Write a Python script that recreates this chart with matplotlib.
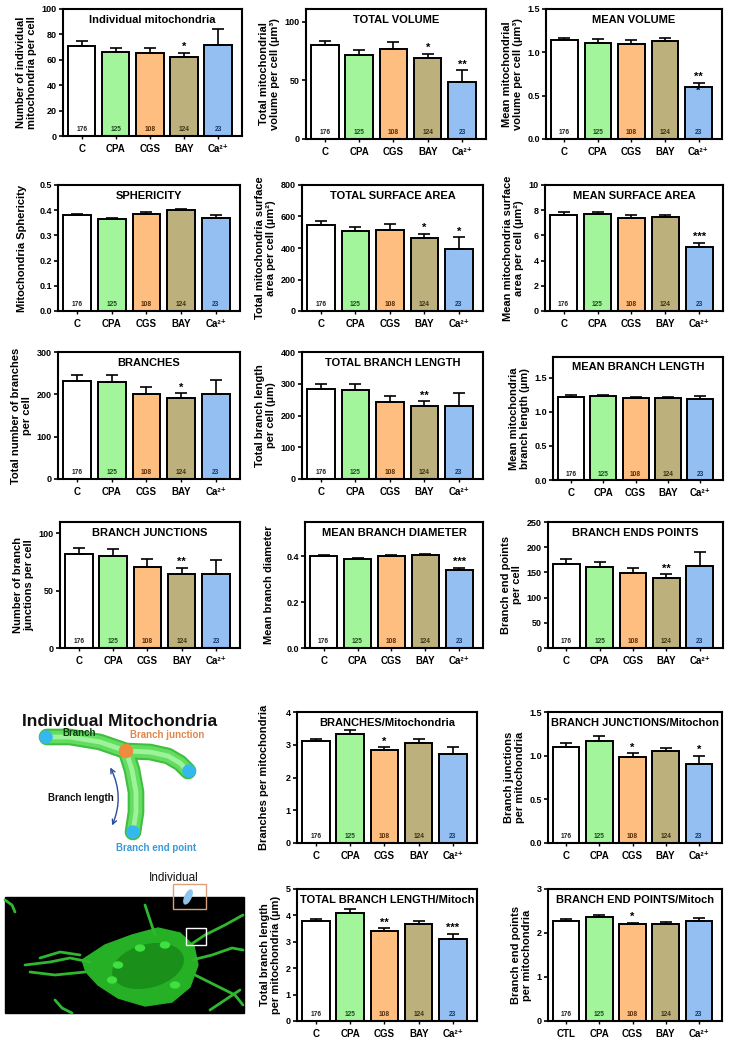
import matplotlib
matplotlib.use("Agg")
import matplotlib.pyplot as plt
from matplotlib.patches import Rectangle, FancyArrowPatch, Polygon, Ellipse
import numpy as np

plt.rcParams['font.family'] = ['Liberation Sans', 'DejaVu Sans']
plt.rcParams['font.weight'] = 'bold'

W, H = 733, 1044

groups = ['C', 'CPA', 'CGS', 'BAY', 'Ca²⁺']
groups_ctl = ['CTL', 'CPA', 'CGS', 'BAY', 'Ca²⁺']
n_cells = ['176', '125', '108', '124', '23']
bar_colors = ['#ffffff', '#a3f59c', '#fdbe80', '#bcb07c', '#93bff3']
n_colors = ['#222222', '#1d4d1d', '#5a2e08', '#3b3416', '#173a6a']

# ---- data (means, SEM, significance) ----
indiv_mean = [71, 66, 65, 62, 72]
indiv_err = [3.5, 3.5, 4.5, 3.5, 12.5]
indiv_sig = ['', '', '', '*', '']

totvol_mean = [80, 72, 77, 69, 48.5]
totvol_err = [3.5, 4, 6, 4, 10]
totvol_sig = ['', '', '', '*', '**']

meanvol_mean = [1.14, 1.11, 1.10, 1.13, 0.60]
meanvol_err = [0.02, 0.04, 0.04, 0.03, 0.05]
meanvol_sig = ['', '', '', '', '**|*']

spher_mean = [0.380, 0.366, 0.386, 0.399, 0.368]
spher_err = [0.005, 0.005, 0.005, 0.004, 0.012]
spher_sig = ['', '', '', '', '']

totsa_mean = [545, 505, 515, 462, 392]
totsa_err = [28, 30, 40, 28, 75]
totsa_sig = ['', '', '', '*', '*']

meansa_mean = [7.65, 7.68, 7.42, 7.47, 5.10]
meansa_err = [0.17, 0.20, 0.22, 0.18, 0.30]
meansa_sig = ['', '', '', '', '***']

branch_mean = [232, 229, 201, 191, 200]
branch_err = [13, 16, 17, 12, 34]
branch_sig = ['', '', '', '*', '']

totbl_mean = [282, 280, 242, 230, 230]
totbl_err = [16, 19, 20, 15, 40]
totbl_sig = ['', '', '', '**', '']

meanbl_mean = [1.22, 1.23, 1.20, 1.20, 1.18]
meanbl_err = [0.02, 0.02, 0.02, 0.02, 0.05]
meanbl_sig = ['', '', '', '', '']

junc_mean = [82, 80, 71, 65, 65]
junc_err = [5, 6, 7, 5, 12]
junc_sig = ['', '', '', '**', '']

diam_mean = [0.402, 0.388, 0.402, 0.408, 0.342]
diam_err = [0.004, 0.004, 0.004, 0.004, 0.008]
diam_sig = ['', '', '', '', '***']

ends_mean = [167, 160, 148, 138, 163]
ends_err = [9, 10, 11, 8, 28]
ends_sig = ['', '', '', '**', '']

brpm_mean = [3.10, 3.32, 2.83, 3.06, 2.72]
brpm_err = [0.09, 0.13, 0.10, 0.11, 0.21]
brpm_sig = ['', '', '*', '', '']

jpm_mean = [1.10, 1.17, 0.99, 1.05, 0.90]
jpm_err = [0.04, 0.05, 0.04, 0.04, 0.10]
jpm_sig = ['', '', '*', '', '*']

blpm_mean = [3.77, 4.08, 3.40, 3.67, 3.12]
blpm_err = [0.10, 0.17, 0.12, 0.12, 0.18]
blpm_sig = ['', '', '**', '', '***']

epm_mean = [2.28, 2.36, 2.20, 2.21, 2.27]
epm_err = [0.04, 0.05, 0.03, 0.04, 0.06]
epm_sig = ['', '', '*', '', '']

fig = plt.figure(figsize=(W / 100, H / 100), dpi=100)

# ---------- decorative overlay (schematic + micrograph) ----------
ov = fig.add_axes([0, 0, 1, 1])
ov.set_xlim(0, W)
ov.set_ylim(H, 0)
ov.axis('off')

ov.text(120, 722, 'Individual Mitochondria', fontsize=12.5, fontweight='bold',
        ha='center', va='center', color='#111111')
# mitochondria schematic (tubes)
hx = [47, 70, 100, 126, 150, 168, 180, 188]
hy = [737, 737, 742, 751, 752, 756, 763, 771]
vx = [126, 132, 136, 136, 133]
vy = [751, 770, 792, 812, 832]
for lw, col in [(12, '#3fbf3f'), (9, '#63dc5f'), (3.5, '#9cf39a')]:
    ov.plot(hx, hy, color=col, lw=lw, solid_capstyle='round', solid_joinstyle='round')
    ov.plot(vx, vy, color=col, lw=lw, solid_capstyle='round', solid_joinstyle='round')
for (ex, ey) in [(46, 737), (189, 771), (133, 832)]:
    ov.add_patch(Ellipse((ex, ey), 12, 12, color='#35b8f0', zorder=5))
ov.add_patch(Ellipse((126, 751), 13, 13, color='#f08a3c', zorder=5))
ov.add_patch(FancyArrowPatch((109, 765), (111, 828), arrowstyle='<->', mutation_scale=8,
                             connectionstyle='arc3,rad=-0.25', color='#2a4c9c', lw=1.0))
ov.text(62, 733, 'Branch', fontsize=7, fontweight='bold', color='#0d3d0d', va='center')
ov.text(130, 735, 'Branch junction', fontsize=7, fontweight='bold', color='#e0874a', va='center')
ov.text(48, 798, 'Branch length', fontsize=7, fontweight='bold', color='#111111', va='center')
ov.text(116, 848, 'Branch end point', fontsize=7, fontweight='bold', color='#3a9ad9', va='center')

# micrograph
ov.add_patch(Rectangle((5, 897), 239, 116, color='black', zorder=1))
cell = Polygon([(82, 960), (105, 945), (132, 935), (158, 928), (180, 933), (194, 946),
                (198, 965), (190, 987), (172, 1002), (145, 1006), (118, 998),
                (98, 985), (86, 972)], closed=True, color='#25b025', zorder=2)
ov.add_patch(cell)
ov.add_patch(Ellipse((148, 966), 72, 42, angle=-15, color='#1a8f1a', zorder=2))
for (cx, cy) in [(140, 948), (165, 945), (118, 965), (112, 980), (175, 985)]:
    ov.add_patch(Ellipse((cx, cy), 9, 6, color='#3fe03f', zorder=2))
for seg in [[(25, 965), (50, 962), (70, 958), (90, 962)],
            [(30, 972), (55, 975), (85, 972)],
            [(40, 958), (60, 952), (80, 955)],
            [(145, 905), (150, 920), (155, 935)],
            [(190, 945), (205, 935), (225, 925), (243, 915)],
            [(192, 960), (212, 955), (232, 948), (243, 950)],
            [(195, 975), (215, 985), (235, 995), (243, 1005)],
            [(210, 1010), (225, 1000), (240, 990)],
            [(55, 1000), (62, 1008), (72, 1013)],
            [(5, 900), (12, 905), (15, 912)]]:
    xs, ys = zip(*seg)
    ov.plot(xs, ys, color='#2fb82f', lw=2, solid_capstyle='round', zorder=2)
ov.add_patch(Rectangle((186, 928), 20, 17, fill=False, ec='white', lw=1, zorder=3))
ov.add_patch(Rectangle((173, 884), 33, 25, fill=False, ec='#d9a27a', lw=1, zorder=3))
ov.add_patch(Ellipse((188, 897), 6, 15, angle=25, color='#8cc4ea', zorder=4))
ov.text(174, 878, 'Individual', fontsize=8.5, fontweight='normal', ha='center',
        va='center', color='#111111')


def panel(rect, means, errs, sigs, title, ylabel, ylim, yticks, fmt, xlabels=groups,
          label_pad=3):
    l, t, r, b = rect
    ax = fig.add_axes([l / W, 1 - b / H, (r - l) / W, (b - t) / H])
    x = np.arange(len(means))
    ax.bar(x, means, width=0.8, color=bar_colors, edgecolor='black', linewidth=1.4, zorder=2)
    ax.errorbar(x, means, yerr=[np.zeros(len(errs)), errs], fmt='none', ecolor='black',
                elinewidth=1.2, capsize=4.5, capthick=1.2, zorder=3)
    ax.set_xlim(-0.55, 4.7)
    ax.set_ylim(*ylim)
    ax.set_yticks(yticks)
    ax.set_yticklabels([fmt.format(v) for v in yticks], fontsize=6.5, fontweight='bold')
    ax.set_xticks(x)
    ax.set_xticklabels(xlabels, fontsize=7, fontweight='bold')
    ax.tick_params(axis='x', length=2.5, width=1.0, pad=3)
    ax.tick_params(axis='y', length=3, width=1.2, pad=1.5)
    for s in ax.spines.values():
        s.set_linewidth(1.5)
    span = ylim[1] - ylim[0]
    for i, (m, e, s) in enumerate(zip(means, errs, sigs)):
        ax.text(i, ylim[0] + 0.02 * span, n_cells[i], fontsize=4.8, fontweight='bold',
                color=n_colors[i], ha='center', va='bottom', zorder=4)
        if s:
            if '|' in s:
                top, low = s.split('|')
                ax.text(i, m + e + 0.005 * span, top, fontsize=8, fontweight='bold',
                        ha='center', va='bottom', zorder=4)
                ax.text(i, m - 0.07 * span, low, fontsize=8, fontweight='bold',
                        ha='center', va='bottom', zorder=6)
            else:
                ax.text(i, m + e + 0.005 * span, s, fontsize=8, fontweight='bold',
                        ha='center', va='bottom', zorder=4)
    ax.text(0.5, 0.915, title, transform=ax.transAxes, fontsize=8, fontweight='bold',
            ha='center', va='center', zorder=5)
    ax.set_ylabel(ylabel, fontsize=8, fontweight='bold', labelpad=label_pad, linespacing=1.15)
    return ax


panel((63, 9, 242, 136), indiv_mean, indiv_err, indiv_sig, 'Individual mitochondria',
      'Number of individual\nmitochondria per cell', (0, 100), [0, 20, 40, 60, 80, 100], '{:.0f}')
panel((306, 9, 486, 139), totvol_mean, totvol_err, totvol_sig, 'TOTAL VOLUME',
      'Total mitochondrial\nvolume per cell (µm³)', (0, 111), [0, 50, 100], '{:.0f}')
panel((546, 9, 722, 139), meanvol_mean, meanvol_err, meanvol_sig, 'MEAN VOLUME',
      'Mean mitochondrial\nvolume per cell (µm³)', (0, 1.5), [0, 0.5, 1.0, 1.5], '{:.1f}')

panel((58, 185, 240, 311), spher_mean, spher_err, spher_sig, 'SPHERICITY',
      'Mitochondria Sphericity', (0, 0.5), [0, 0.1, 0.2, 0.3, 0.4, 0.5], '{:.1f}', label_pad=9)
panel((302, 185, 483, 311), totsa_mean, totsa_err, totsa_sig, 'TOTAL SURFACE AREA',
      'Total mitochondria surface\narea per cell (µm²)', (0, 800), [0, 200, 400, 600, 800], '{:.0f}')
panel((545, 185, 723, 311), meansa_mean, meansa_err, meansa_sig, 'MEAN SURFACE AREA',
      'Mean mitochondria surface\narea per cell (µm²)', (0, 10), [0, 2, 4, 6, 8, 10], '{:.0f}')

panel((58, 352, 240, 479), branch_mean, branch_err, branch_sig, 'BRANCHES',
      'Total number of branches\nper cell', (0, 300), [0, 100, 200, 300], '{:.0f}')
panel((302, 352, 483, 479), totbl_mean, totbl_err, totbl_sig, 'TOTAL BRANCH LENGTH',
      'Total branch length\nper cell (µm)', (0, 400), [0, 100, 200, 300, 400], '{:.0f}')
panel((553, 357, 723, 480), meanbl_mean, meanbl_err, meanbl_sig, 'MEAN BRANCH LENGTH',
      'Mean mitochondria\nbranch length (µm)', (0, 1.8), [0, 0.5, 1.0, 1.5], '{:.1f}')

panel((60, 522, 240, 648), junc_mean, junc_err, junc_sig, 'BRANCH JUNCTIONS',
      'Number of branch\njunctions per cell', (0, 110), [0, 50, 100], '{:.0f}')
panel((305, 522, 483, 648), diam_mean, diam_err, diam_sig, 'MEAN BRANCH DIAMETER',
      'Mean branch diameter', (0, 0.55), [0, 0.2, 0.4], '{:.1f}', label_pad=9)
panel((548, 522, 723, 648), ends_mean, ends_err, ends_sig, 'BRANCH ENDS POINTS',
      'Branch end points\nper cell', (0, 250), [0, 50, 100, 150, 200, 250], '{:.0f}')

panel((297, 712, 477, 843), brpm_mean, brpm_err, brpm_sig, 'BRANCHES/Mitochondria',
      'Branches per mitochondria', (0, 4), [0, 1, 2, 3, 4], '{:.0f}', label_pad=12)
panel((548, 712, 722, 843), jpm_mean, jpm_err, jpm_sig, 'BRANCH JUNCTIONS/Mitochon',
      'Branch junctions\nper mitochondria', (0, 1.5), [0, 0.5, 1.0, 1.5], '{:.1f}')

panel((297, 889, 477, 1021), blpm_mean, blpm_err, blpm_sig, 'TOTAL BRANCH LENGTH/Mitoch',
      'Total branch length\nper mitochondria (µm)', (0, 5), [0, 1, 2, 3, 4, 5], '{:.0f}')
panel((548, 889, 722, 1021), epm_mean, epm_err, epm_sig, 'BRANCH END POINTS/Mitoch',
      'Branch end points\nper mitochondria', (0, 3), [0, 1, 2, 3], '{:.0f}', xlabels=groups_ctl)

fig.savefig('out.png', dpi=100)
